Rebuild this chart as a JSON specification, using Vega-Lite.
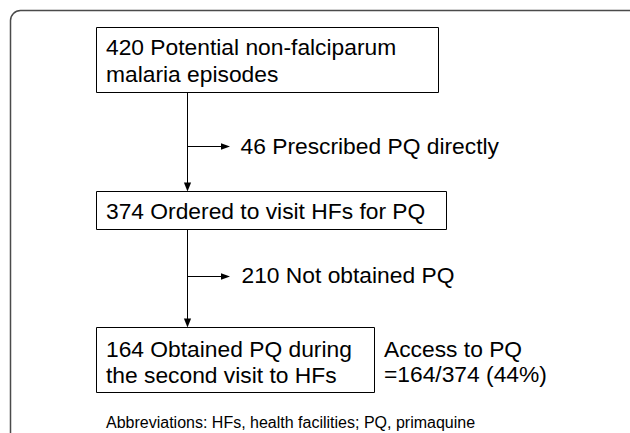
{
  "$schema": "https://vega.github.io/schema/vega-lite/v6.json",
  "width": 630,
  "height": 433,
  "autosize": {"type": "fit", "contains": "padding"},
  "padding": 0,
  "background": "white",
  "config": {"view": {"stroke": null}},
  "datasets": {
    "frame": [{"x": 10.5, "x2": 642, "y": 10.5, "y2": 480}],
    "boxes": [
      {"id": "b1", "x": 96.5, "x2": 438.5, "y": 27.5, "y2": 92.5},
      {"id": "b2", "x": 96.5, "x2": 446.5, "y": 191.5, "y2": 229.5},
      {"id": "b3", "x": 96.5, "x2": 374.5, "y": 327.5, "y2": 392.5}
    ],
    "lines": [
      {"x": 187.5, "x2": 187.5, "y": 92.5, "y2": 184},
      {"x": 187.5, "x2": 187.5, "y": 229.5, "y2": 320},
      {"x": 187.5, "x2": 222, "y": 146.5, "y2": 146.5},
      {"x": 187.5, "x2": 222, "y": 276.5, "y2": 276.5}
    ],
    "arrowsDown": [
      {"x": 187.5, "y": 191.5},
      {"x": 187.5, "y": 327.5}
    ],
    "arrowsRight": [
      {"x": 230, "y": 146.5},
      {"x": 230, "y": 276.5}
    ],
    "texts": [
      {"x": 106, "y": 55, "label": "420 Potential non-falciparum"},
      {"x": 106, "y": 82, "label": "malaria episodes"},
      {"x": 240.5, "y": 153.5, "label": "46 Prescribed PQ directly"},
      {"x": 106, "y": 219, "label": "374 Ordered to visit HFs for PQ"},
      {"x": 241.5, "y": 283, "label": "210 Not obtained PQ"},
      {"x": 106, "y": 357, "label": "164 Obtained PQ during"},
      {"x": 106, "y": 383, "label": "the second visit to HFs"},
      {"x": 384, "y": 357, "label": "Access to PQ"},
      {"x": 384, "y": 382, "label": "=164/374 (44%)"}
    ],
    "notes": [
      {"x": 106, "y": 428, "label": "Abbreviations: HFs, health facilities; PQ, primaquine"}
    ]
  },
  "layer": [
    {
      "data": {"name": "frame"},
      "mark": {"type": "rect", "clip": true, "fillOpacity": 0, "stroke": "#4a4a4a", "strokeWidth": 1.5, "cornerRadius": 10},
      "encoding": {
        "x": {"field": "x", "type": "quantitative", "scale": {"domain": [0, 630], "nice": false, "zero": false}, "axis": null},
        "x2": {"field": "x2"},
        "y": {"field": "y", "type": "quantitative", "scale": {"domain": [0, 433], "nice": false, "zero": false, "reverse": true}, "axis": null},
        "y2": {"field": "y2"}
      }
    },
    {
      "data": {"name": "boxes"},
      "mark": {"type": "rect", "fill": "white", "stroke": "black", "strokeWidth": 1},
      "encoding": {
        "x": {"field": "x", "type": "quantitative", "axis": null},
        "x2": {"field": "x2"},
        "y": {"field": "y", "type": "quantitative", "axis": null},
        "y2": {"field": "y2"}
      }
    },
    {
      "data": {"name": "lines"},
      "mark": {"type": "rule", "color": "black", "strokeWidth": 1},
      "encoding": {
        "x": {"field": "x", "type": "quantitative", "axis": null},
        "x2": {"field": "x2"},
        "y": {"field": "y", "type": "quantitative", "axis": null},
        "y2": {"field": "y2"}
      }
    },
    {
      "data": {"name": "arrowsDown"},
      "mark": {"type": "point", "shape": "M0,0L-0.4,-1L0.4,-1Z", "filled": true, "color": "black", "opacity": 1, "size": 324, "strokeWidth": 0},
      "encoding": {
        "x": {"field": "x", "type": "quantitative", "axis": null},
        "y": {"field": "y", "type": "quantitative", "axis": null}
      }
    },
    {
      "data": {"name": "arrowsRight"},
      "mark": {"type": "point", "shape": "M0,0L-1,-0.36L-1,0.36Z", "filled": true, "color": "black", "opacity": 1, "size": 324, "strokeWidth": 0},
      "encoding": {
        "x": {"field": "x", "type": "quantitative", "axis": null},
        "y": {"field": "y", "type": "quantitative", "axis": null}
      }
    },
    {
      "data": {"name": "texts"},
      "mark": {"type": "text", "align": "left", "baseline": "alphabetic", "font": "Liberation Sans", "fontSize": 22.8, "color": "black"},
      "encoding": {
        "x": {"field": "x", "type": "quantitative", "axis": null},
        "y": {"field": "y", "type": "quantitative", "axis": null},
        "text": {"field": "label"}
      }
    },
    {
      "data": {"name": "notes"},
      "mark": {"type": "text", "align": "left", "baseline": "alphabetic", "font": "Liberation Sans", "fontSize": 16, "color": "black"},
      "encoding": {
        "x": {"field": "x", "type": "quantitative", "axis": null},
        "y": {"field": "y", "type": "quantitative", "axis": null},
        "text": {"field": "label"}
      }
    }
  ]
}
